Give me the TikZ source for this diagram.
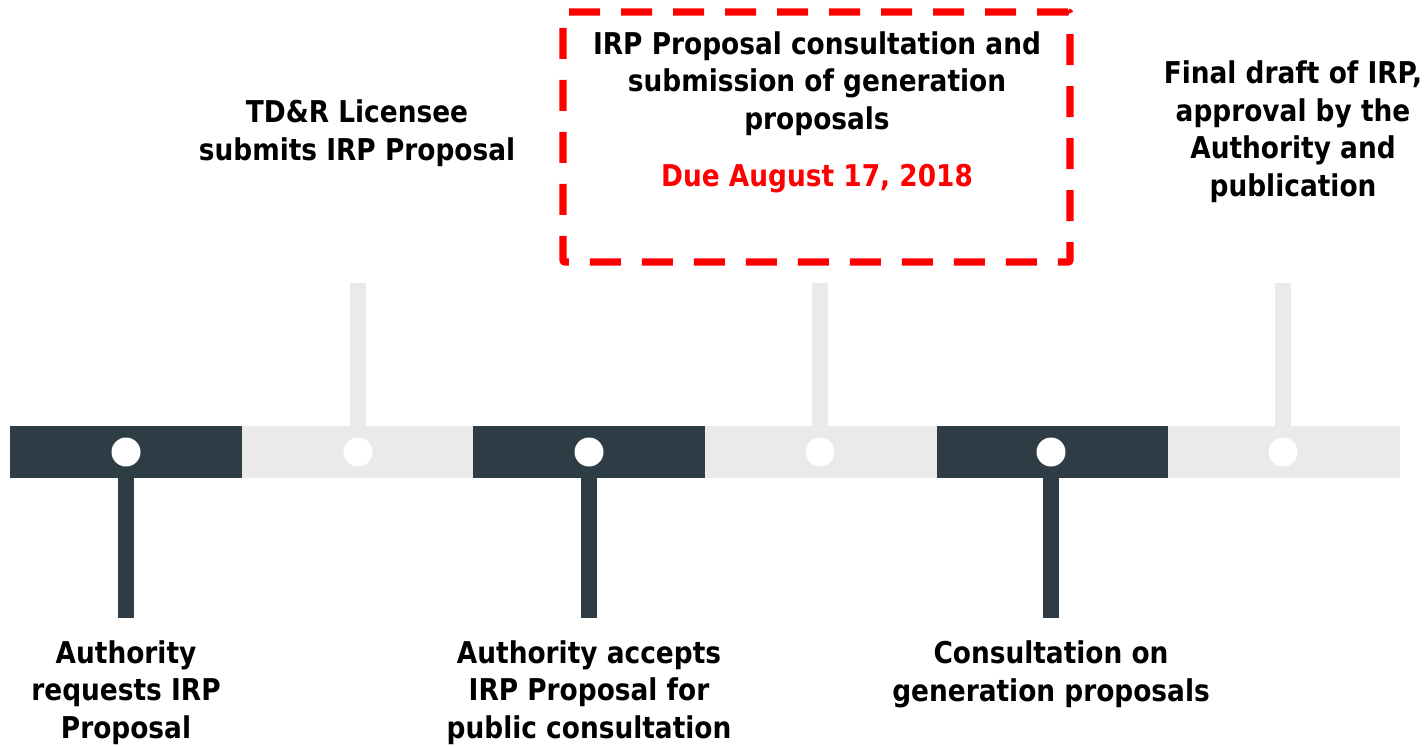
\documentclass[tikz,border=0pt]{standalone}
\usepackage{fontspec}
\setmainfont{DejaVu Sans}[FakeStretch=0.88]
\definecolor{darkseg}{HTML}{2E3D45}
\definecolor{lightseg}{HTML}{EAEAEA}
\definecolor{duered}{HTML}{FF0000}
\tikzset{
  seg/.style={rectangle, inner sep=0pt, minimum width=116pt, minimum height=25.75pt},
  segdark/.style={seg, fill=darkseg},
  seglight/.style={seg, fill=lightseg},
  dot/.style={circle, fill=white, inner sep=0pt, minimum size=14.5pt},
  stemdark/.style={draw=darkseg, line width=8.25pt},
  stemlight/.style={draw=lightseg, line width=7.75pt},
  lbl/.style={align=center, inner sep=0pt, font=\fontsize{15}{18.75}\selectfont\bfseries, anchor=base},
  duebox/.style={rectangle, draw=duered, line width=3.6pt, dash pattern=on 15.5pt off 10.5pt, rounded corners=1pt, minimum width=253.5pt, minimum height=125pt, inner sep=0pt}
}
\begin{document}
\begin{tikzpicture}[x=0.5pt,y=-0.5pt]
\useasboundingbox (0,0) rectangle (1428,746);
% bar segments
\node[segdark]  (seg1) at (125.8,451.75) {};
\node[seglight] (seg2) at (357.5,451.75) {};
\node[segdark]  (seg3) at (589.2,451.75) {};
\node[seglight] (seg4) at (820.8,451.75) {};
\node[segdark]  (seg5) at (1052.5,451.75) {};
\node[seglight] (seg6) at (1284.2,451.75) {};
% stems
\coordinate (e1) at (126,618);
\coordinate (e3) at (589,618);
\coordinate (e5) at (1051,618);
\coordinate (t2) at (358,283);
\coordinate (t4) at (820,283);
\coordinate (t6) at (1283,283);
\draw[stemdark] (126,477.5) -- (e1);
\draw[stemdark] (589,477.5) -- (e3);
\draw[stemdark] (1051,477.5) -- (e5);
\draw[stemlight] (t2) -- (358,426);
\draw[stemlight] (t4) -- (820,426);
\draw[stemlight] (t6) -- (1283,426);
% dots
\node[dot] (d1) at (126,452) {};
\node[dot] (d2) at (358,452) {};
\node[dot] (d3) at (589,452) {};
\node[dot] (d4) at (820,452) {};
\node[dot] (d5) at (1051,452) {};
\node[dot] (d6) at (1283,452) {};
% due box
\node[duebox] (box) at (816.5,137) {};
% labels
\node[lbl] (l1) at (126,738) {Authority\\requests IRP\\Proposal};
\node[lbl] (l2) at (357,160) {TD\&R Licensee\\submits IRP Proposal};
\node[lbl] (l3) at (589,738) {Authority accepts\\IRP Proposal for\\public consultation};
\node[lbl] (l4) at (817,129) {IRP Proposal consultation and\\submission of generation\\proposals};
\node[lbl, text=duered] (l4d) at (817,186) {Due August 17, 2018};
\node[lbl] (l5) at (1051,701) {Consultation on\\generation proposals};
\node[lbl] (l6) at (1293,196) {Final draft of IRP,\\approval by the\\Authority and\\publication};
\end{tikzpicture}
\end{document}
